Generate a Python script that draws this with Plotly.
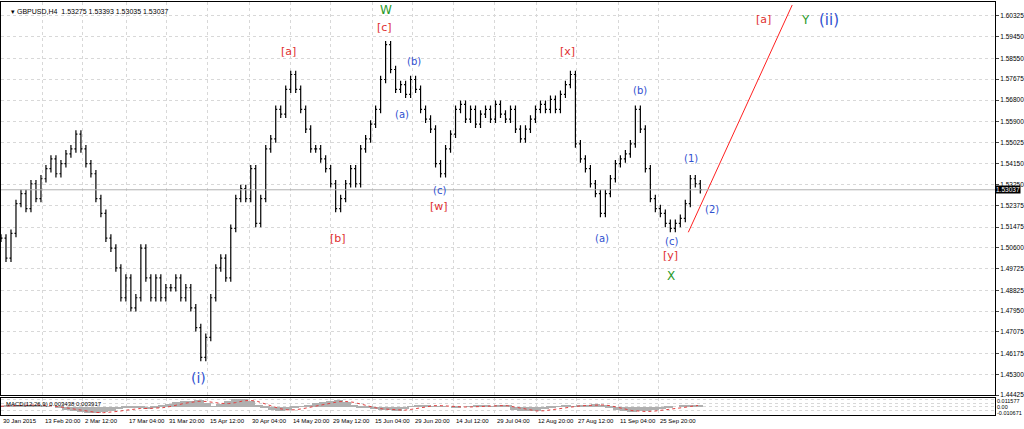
import plotly.graph_objects as go

closes = [1.5101,1.5017,1.5121,1.5246,1.5288,1.5225,1.5329,1.5267,1.5350,1.5392,1.5433,1.5371,1.5413,1.5454,1.5475,1.5537,1.5475,1.5413,1.5371,1.5267,
          1.5205,1.5101,1.5059,1.4976,1.4851,1.4934,1.4809,1.4851,1.5059,1.4934,1.4851,1.4934,1.4851,1.4893,1.4893,1.4934,1.4851,1.4893,1.4809,1.4726,
          1.4601,1.4685,1.4851,1.4976,1.5017,1.4934,1.5142,1.5267,1.5309,1.5267,1.5392,1.5163,1.5267,1.5475,1.5517,1.5641,1.5621,1.5725,1.5787,1.5725,
          1.5641,1.5558,1.5475,1.5475,1.5433,1.5392,1.5329,1.5225,1.5267,1.5329,1.5392,1.5329,1.5475,1.5517,1.5579,1.5641,1.5766,1.5912,1.5808,1.5725,
          1.5745,1.5704,1.5766,1.5725,1.5641,1.5600,1.5558,1.5413,1.5371,1.5475,1.5537,1.5641,1.5662,1.5600,1.5641,1.5579,1.5621,1.5641,1.5600,1.5662,
          1.5621,1.5600,1.5641,1.5558,1.5517,1.5558,1.5600,1.5641,1.5662,1.5641,1.5683,1.5641,1.5704,1.5745,1.5787,1.5496,1.5433,1.5392,1.5329,1.5288,
          1.5205,1.5288,1.5350,1.5413,1.5433,1.5454,1.5496,1.5641,1.5558,1.5392,1.5267,1.5225,1.5205,1.5163,1.5142,1.5163,1.5184,1.5246,1.5350,1.5329,1.5304]
macd = [0.001,0.002,0.002,0.003,0.003,0.002,0.001,0.000,-0.002,-0.004,-0.006,-0.007,-0.008,-0.008,-0.007,-0.005,-0.003,-0.002,-0.001,-0.002,
        -0.003,-0.001,0.002,0.004,0.006,0.007,0.008,0.009,0.005,0.001,0.004,0.008,0.010,0.010,0.007,0.002,-0.002,-0.004,-0.005,-0.004,
        -0.002,0.001,0.003,0.005,0.006,0.008,0.009,0.006,0.002,-0.001,-0.002,-0.003,-0.004,-0.004,-0.006,-0.003,0.001,0.003,0.002,0.001,
        0.001,0.000,-0.001,0.000,0.001,0.002,0.002,0.001,0.002,0.002,-0.004,-0.006,-0.006,-0.005,-0.003,-0.001,0.001,0.002,0.001,0.002,
        0.003,0.004,0.002,-0.002,-0.004,-0.006,-0.007,-0.006,-0.005,-0.004,-0.003,-0.002,0.000,0.002,0.003,0.003]
tick_labels = ["30 Jan 2015","13 Feb 20:00","2 Mar 12:00","17 Mar 04:00","31 Mar 20:00","15 Apr 12:00","30 Apr 04:00",
               "14 May 20:00","29 May 12:00","15 Jun 04:00","29 Jun 20:00","14 Jul 12:00","29 Jul 04:00","12 Aug 20:00",
               "27 Aug 12:00","11 Sep 04:00","25 Sep 20:00"]
price_ticks = [1.60325,1.59450,1.58550,1.57675,1.56800,1.55900,1.55025,1.54150,1.53250,1.52375,1.51475,1.50600,
               1.49725,1.48825,1.47950,1.47075,1.46175,1.45300,1.44425]
last_price = 1.53037

n = len(closes)
xs = list(range(n))
opens = [closes[0]] + closes[:-1]
highs = [max(o, c) + 0.0016 for o, c in zip(opens, closes)]
lows = [min(o, c) - 0.0016 for o, c in zip(opens, closes)]
macd_x = [i * n / len(macd) for i in range(len(macd))]
signal = [sum(macd[max(0, i-3):i+1]) / len(macd[max(0, i-3):i+1]) for i in range(len(macd))]

fig = go.Figure()
fig.add_trace(go.Ohlc(x=xs, open=opens, high=highs, low=lows, close=closes,
                      increasing_line_color="black", decreasing_line_color="black",
                      line_width=1.2, tickwidth=0.3, xaxis="x", yaxis="y", showlegend=False, hoverinfo="skip"))
fig.add_trace(go.Bar(x=macd_x, y=macd, marker_color="#b0b0b0", marker_line_width=0, width=1.9,
                     xaxis="x2", yaxis="y2", showlegend=False))
fig.add_trace(go.Scatter(x=macd_x, y=signal, mode="lines", line=dict(color="#e04040", width=1, dash="dot"),
                         xaxis="x2", yaxis="y2", showlegend=False))

def px(p):  # pixel x -> data x
    return p / 5.0
def py(p):  # pixel y -> price
    return 1.60325 - (p - 16) * 0.000416

fig.add_trace(go.Scatter(x=[px(688), px(792)], y=[py(234), py(5)], mode="lines",
                         line=dict(color="#ff2020", width=1), showlegend=False))
fig.add_hline(y=last_price, line=dict(color="#b0b0b0", width=1), xref="x", yref="y")

labels = [("[a]",288,52,"#e03030",11),("[c]",384,28,"#e03030",11),("W",385,10,"#2a9a2a",12),
          ("(b)",413,62,"#3050d0",10),("(a)",401,115,"#3050d0",10),("(c)",439,192,"#3050d0",10),
          ("[w]",438,208,"#e03030",11),("[b]",337,240,"#e03030",11),("[x]",567,52,"#e03030",11),
          ("(b)",640,91,"#3050d0",10),("(1)",691,160,"#3050d0",10),("(2)",712,211,"#3050d0",10),
          ("(a)",602,240,"#3050d0",10),("(c)",671,243,"#3050d0",10),("[y]",670,257,"#e03030",11),
          ("X",671,278,"#2a9a2a",12),("(i)",198,381,"#3050d0",14),("[a]",763,20,"#e03030",11),
          ("Y",805,20,"#2a9a2a",12),("(ii)",829,20,"#3050d0",15)]
for t, x, y, c, s in labels:
    fig.add_annotation(x=px(x), y=py(y), text=t, showarrow=False, font=dict(color=c, size=s, family="DejaVu Sans"))

fig.add_annotation(xref="paper", yref="paper", x=0.008, y=0.985, xanchor="left", yanchor="top", showarrow=False,
                   text="▾ GBPUSD,H4  1.53275 1.53393 1.53035 1.53037", font=dict(size=7, color="black"))
fig.add_annotation(xref="paper", yref="paper", x=0.003, y=0.064, xanchor="left", yanchor="top", showarrow=False,
                   text="MACD(12,26,9) 0.003438 0.003917", font=dict(size=6, color="black"))
fig.add_annotation(xref="paper", yref="y", x=1.0, y=last_price, xanchor="left", showarrow=False,
                   text="1.53037", bgcolor="black", font=dict(size=6.5, color="white", family="Liberation Sans"), borderpad=0)
for v, t in [(0.008, "0.011577"), (0.0, "0.00"), (-0.008, "-0.010671")]:
    fig.add_annotation(xref="paper", yref="y2", x=1.0, y=v, xanchor="left", showarrow=False,
                       text=t, font=dict(size=5.5, color="black", family="Liberation Sans"))

tick_px = [0,42,82,126,166,207,249,290,330,372,412,453,494,536,576,618,658]
tick_x = [px(p) for p in tick_px]
for tx, tl in zip(tick_x, tick_labels):
    fig.add_annotation(x=tx, y=0.0, xref="x2", yref="paper", xanchor="left", yanchor="bottom", showarrow=False,
                       text=tl, font=dict(size=6, color="black", family="Liberation Sans"))

grid = dict(showgrid=True, gridcolor="#d8d8d8", griddash="dot", gridwidth=1, zeroline=False,
            showline=True, linecolor="black", linewidth=1, mirror=True)
fig.update_layout(
    width=1024, height=429, margin=dict(l=0, r=29, t=0, b=0),
    paper_bgcolor="white", plot_bgcolor="white", bargap=0,
    font=dict(family="Liberation Sans", size=6.5, color="black"),
    xaxis=dict(domain=[0, 1], range=[0, 199], anchor="y", showticklabels=False,
               rangeslider=dict(visible=False), tickvals=tick_x, **grid),
    yaxis=dict(domain=[0.0723, 0.9953], range=[1.44425, 1.6091], side="right",
               tickvals=price_ticks, ticktext=[f"{v:.5f}" for v in price_ticks],
               ticks="outside", ticklen=3, **grid),
    xaxis2=dict(domain=[0, 1], range=[0, 199], anchor="y2", tickvals=tick_x, showticklabels=False,
                ticks="", **grid),
    yaxis2=dict(domain=[0.0256, 0.0653], range=[-0.0107, 0.0116], side="right", showticklabels=False, **grid),
    showlegend=False,
)
fig.write_html("out.html", config={"displayModeBar": False},
               post_script="document.body.style.margin='0';document.body.style.overflow='hidden';")
